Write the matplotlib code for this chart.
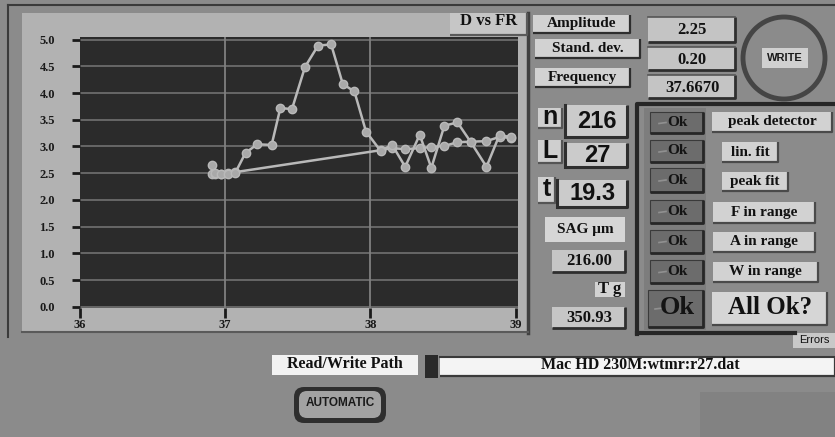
import matplotlib
matplotlib.use("Agg")
import matplotlib.pyplot as plt
from matplotlib.patches import Rectangle, Ellipse, FancyBboxPatch

# ---- measured data: D vs FR ----
freq = [36.907, 36.93, 36.97, 37.02, 37.07, 37.14, 37.22, 37.32, 37.38,
        37.46, 37.55, 37.64, 37.73, 37.81, 37.89, 37.97, 38.07, 38.15,
        38.24, 38.34, 38.42, 38.51, 38.60, 38.69, 38.80, 38.89, 38.97]
depth = [2.65, 2.50, 2.49, 2.48, 2.51, 2.88, 3.04, 3.03, 3.72,
         3.70, 4.49, 4.89, 4.91, 4.17, 4.03, 3.28, 2.92, 3.03,
         2.62, 3.22, 2.60, 3.39, 3.45, 3.09, 2.62, 3.22, 3.17]

# baseline (linear fit) evaluated at the off-peak points
fit_freq = [36.907, 36.93, 36.97, 37.02, 37.07,
            38.07, 38.15, 38.24, 38.34, 38.42, 38.51, 38.60, 38.69,
            38.80, 38.89, 38.97]
fit_depth = [2.48, 2.49, 2.49, 2.50, 2.52,
             2.93, 2.97, 2.95, 2.97, 2.99, 3.01, 3.08, 3.09,
             3.10, 3.18, 3.16]

y_ticks = [0.0, 0.5, 1.0, 1.5, 2.0, 2.5, 3.0, 3.5, 4.0, 4.5, 5.0]
x_ticks = [36, 37, 38, 39]

# indicator panel values
amplitude = "2.25"
stand_dev = "0.20"
frequency = "37.6670"
n_val, L_val, t_val = "216", "27", "19.3"
sag_val = "216.00"
tg_val = "350.93"
checks = ["peak detector", "lin. fit", "peak fit", "F in range",
          "A in range", "W in range"]
path_text = "Mac HD 230M:wtmr:r27.dat"

W, H = 835, 437
BG = "#8b8b8b"
DARK = "#2e2e2e"
SERIF = ["Liberation Serif", "DejaVu Serif"]
SANS = ["Liberation Sans", "DejaVu Sans"]

fig = plt.figure(figsize=(W / 100, H / 100), dpi=100)
fig.patch.set_facecolor(BG)

# full-figure canvas in pixel units for the front-panel controls
pan = fig.add_axes([0, 0, 1, 1])
pan.set_xlim(0, W)
pan.set_ylim(H, 0)
pan.axis("off")
pan.set_facecolor(BG)


def box(x0, y0, x1, y1, fill, edge=None, shadow=DARK, slw=1.6, z=2):
    pan.add_patch(Rectangle((x0, y0), x1 - x0, y1 - y0, facecolor=fill,
                            edgecolor=edge if edge else "none",
                            lw=0.8, zorder=z))
    if shadow:
        pan.plot([x1, x1, x0], [y0, y1, y1], color=shadow, lw=slw,
                 solid_capstyle="butt", zorder=z + 0.1)


def label(x, y, s, size, family=SERIF, weight="bold", color="#111111",
          ha="center"):
    pan.text(x, y, s, fontsize=size, family=family, fontweight=weight,
             color=color, ha=ha, va="center", zorder=5)


# graph panel frame
pan.plot([8, W], [5, 5], color="#3a3a3a", lw=1.5, zorder=1)
pan.plot([8, 8], [5, 337], color="#3a3a3a", lw=1.5, zorder=1)
pan.add_patch(Rectangle((22, 13), 505, 318, facecolor="#b2b2b2",
                        edgecolor="none", zorder=1))
pan.plot([528, 528], [13, 333], color="#404040", lw=2.5, zorder=1.1)
pan.plot([22, 528], [332, 332], color="#5a5a5a", lw=1.5, zorder=1.1)
box(450, 13, 527, 35, "#c6c6c6", shadow="#5a5a5a")
label(489, 21, "D vs FR", 12)

# amplitude / sigma / frequency
box(533, 15, 630, 33, "#d2d2d2")
label(582, 24, "Amplitude", 11)
box(535, 39, 640, 58, "#d2d2d2")
label(588, 48, "Stand. dev.", 11)
box(535, 68, 630, 87, "#d2d2d2")
label(582, 77, "Frequency", 11)
for (y0, y1, s) in [(17, 42, amplitude), (47, 70, stand_dev),
                    (75, 98, frequency)]:
    box(648, y0, 735, y1, "#c4c4c4", shadow=DARK, slw=2)
    pan.plot([648, 735], [y0, y0], color="#555555", lw=1.2, zorder=2.2)
    label(692, (y0 + y1) / 2 + 1, s, 12)

# WRITE button
pan.add_patch(Ellipse((784, 58), 82, 82, facecolor="none",
                      edgecolor="#454545", lw=3.5, zorder=2))
box(762, 48, 808, 68, "#d0d0d0", shadow=None)
label(785, 58, "WRITE", 8, family=SANS, color="#1a1a1a")

# n / L / t readouts
for (ly0, ly1, lx1, vx0, vy0, vy1, ch, val) in [
        (108, 128, 562, 563, 105, 137, "n", n_val),
        (140, 163, 562, 563, 143, 167, "L", L_val),
        (177, 203, 555, 555, 180, 207, "t", t_val)]:
    box(538, ly0, lx1, ly1, "#cfcfcf", shadow="#555555")
    label((538 + lx1) / 2, (ly0 + ly1) / 2 - 1, ch, 18, family=SANS)
    box(vx0 + 2, vy0, 627, vy1, "#cbcbcb", shadow=DARK, slw=2.2)
    pan.plot([vx0 + 2, vx0 + 2], [vy0, vy1], color=DARK, lw=2.2, zorder=2.2)
    label((vx0 + 627) / 2 + 2, (vy0 + vy1) / 2, val, 17, family=SANS)

box(545, 217, 625, 242, "#d6d6d6", shadow=None)
label(585, 229, "SAG \u03bcm", 11)
box(552, 250, 625, 272, "#c6c6c6", shadow=DARK, slw=2)
label(589, 261, sag_val, 12)
box(595, 282, 625, 297, "#d2d2d2", shadow=None)
label(610, 289, "T g", 12)
box(552, 307, 625, 328, "#c6c6c6", shadow=DARK, slw=2)
label(589, 318, tg_val, 12)

# status cluster
pan.plot([637, 637, W], [334, 104, 104], color="#262626", lw=3, zorder=3)
pan.plot([637, 795], [333, 333], color="#262626", lw=3, zorder=3)
pan.add_patch(Rectangle((644, 108), 62, 222, facecolor="#7d7d7d",
                        edgecolor="none", zorder=1.5))
btn_y = [(112, 133), (140, 162), (168, 192), (200, 223), (230, 253),
         (260, 283)]
lbl_box = [(712, 112, 832, 132), (722, 142, 778, 162), (722, 172, 788, 191),
           (713, 202, 815, 223), (713, 232, 815, 252), (713, 262, 818, 282)]
for (y0, y1), (bx0, by0, bx1, by1), name in zip(btn_y, lbl_box, checks):
    box(650, y0, 703, y1, "#6c6c6c", edge="#3a3a3a", shadow="#262626", slw=2)
    pan.plot([659, 666], [(y0 + y1) / 2 + 1, (y0 + y1) / 2], color="#9a9a9a",
             lw=1.2, alpha=0.8, zorder=3)
    label(677, (y0 + y1) / 2, "Ok", 11, color="#141414")
    box(bx0, by0, bx1, by1, "#d2d2d2", shadow="#4a4a4a")
    label((bx0 + bx1) / 2, (by0 + by1) / 2, name, 11)
box(648, 290, 703, 327, "#6c6c6c", edge="#3a3a3a", shadow="#262626", slw=2)
pan.plot([655, 663], [309, 308], color="#9a9a9a", lw=1.2, alpha=0.8, zorder=3)
label(677, 308, "Ok", 19, color="#141414")
box(712, 292, 827, 325, "#d6d6d6", shadow="#4a4a4a")
label(770, 308, "All Ok?", 18)
box(793, 333, 835, 348, "#c8c8c8", shadow=None)
label(814, 340, "Errors", 8, family=SANS, weight="normal")

# file path row
box(272, 355, 418, 375, "#f2f2f2", shadow=None)
label(345, 364, "Read/Write Path", 11.5)
pan.add_patch(Rectangle((425, 355), 13, 23, facecolor="#2a2a2a",
                        edgecolor="none", zorder=2))
box(440, 357, W, 376, "#f4f4f4", shadow="#3a3a3a")
pan.plot([440, W], [357, 357], color="#3a3a3a", lw=1.5, zorder=2.2)
label(640, 365, path_text, 11.5)

# AUTOMATIC button
pan.add_patch(FancyBboxPatch((294, 387), 92, 36,
                             boxstyle="round,pad=0,rounding_size=10",
                             facecolor="#2e2e2e", edgecolor="none", zorder=2))
pan.add_patch(FancyBboxPatch((299, 391), 82, 27,
                             boxstyle="round,pad=0,rounding_size=8",
                             facecolor="#a2a2a2", edgecolor="none", zorder=2.1))
label(340, 403, "AUTOMATIC", 8.5, family=SANS, color="#1a1a1a")

# darker patch lower right
pan.add_patch(Rectangle((700, 392), 135, 45, facecolor="#707070",
                        edgecolor="none", alpha=0.3, zorder=1))

# ---- chart ----
x_left, x_right, y_top, y_bot = 80, 518, 37, 308
ax = fig.add_axes([x_left / W, 1 - y_bot / H, (x_right - x_left) / W,
                   (y_bot - y_top) / H])
ax.set_facecolor("#2b2b2b")
ax.set_xlim(36, 39.017)
ax.set_ylim(-0.024, 5.05)
for s in ax.spines.values():
    s.set_visible(False)

for yv in y_ticks:
    ax.axhline(yv, color="#6c6c6c", lw=1.3, zorder=1)
for xv in x_ticks[1:-1]:
    ax.axvline(xv, color="#808080", lw=1.3, zorder=1)

ax.plot(fit_freq, fit_depth, color="#b9b9b9", lw=1.8, marker="o", ms=6,
        mfc="#a9a9a9", mec="#b9b9b9", zorder=3)
ax.plot(freq, depth, color="#b9b9b9", lw=1.8, marker="o", ms=6,
        mfc="#a9a9a9", mec="#b9b9b9", zorder=4)

ax.set_yticks(y_ticks)
ax.set_yticklabels([f"{v:.1f}" for v in y_ticks])
ax.set_xticks(x_ticks)
ax.set_xticklabels([str(v) for v in x_ticks])
ax.tick_params(axis="y", direction="out", length=6, width=2,
               color="#1a1a1a", pad=12, labelsize=9)
ax.tick_params(axis="x", direction="out", length=7.5, width=2,
               color="#1a1a1a", pad=0.5, labelsize=9)
for t in ax.get_xticklabels() + ax.get_yticklabels():
    t.set_family(SERIF)
    t.set_fontweight("bold")
    t.set_color("#1a1a1a")

fig.savefig("out.png", dpi=100, facecolor=BG)
